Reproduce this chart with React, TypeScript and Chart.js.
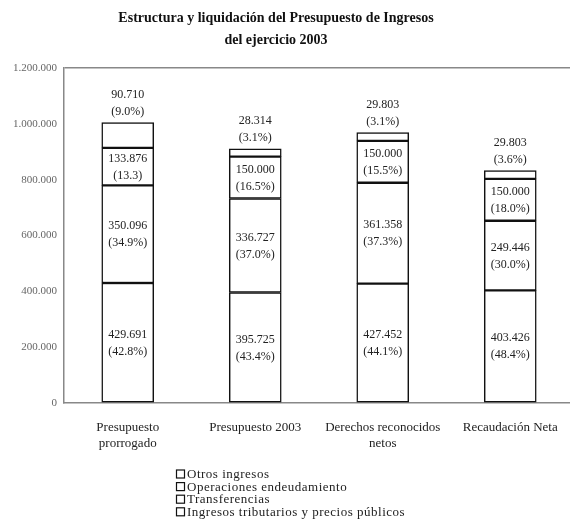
import React, { useEffect, useRef } from "react";
import { Chart, registerables } from "chart.js";

Chart.register(...registerables);

const categories: (string | string[])[] = [
  ["Presupuesto", "prorrogado"],
  "Presupuesto 2003",
  ["Derechos reconocidos", "netos"],
  "Recaudación Neta",
];

const seriesNames = [
  "Ingresos tributarios y precios públicos",
  "Transferencias",
  "Operaciones endeudamiento",
  "Otros ingresos",
];

const tributarios = [429691, 395725, 427452, 403426];
const transferencias = [350096, 336727, 361358, 249446];
const endeudamiento = [133876, 150000, 150000, 150000];
const otros = [90710, 28314, 29803, 29803];

const pctTributarios = ["(42.8%)", "(43.4%)", "(44.1%)", "(48.4%)"];
const pctTransferencias = ["(34.9%)", "(37.0%)", "(37.3%)", "(30.0%)"];
const pctEndeudamiento = ["(13.3)", "(16.5%)", "(15.5%)", "(18.0%)"];
const pctOtros = ["(9.0%)", "(3.1%)", "(3.1%)", "(3.6%)"];

const yTicks = [0, 200000, 400000, 600000, 800000, 1000000, 1200000];

const titleLines = ["Estructura y liquidación del Presupuesto de Ingresos", "del ejercicio 2003"];

const fmt = (n: number) => n.toString().replace(/\B(?=(\d{3})+(?!\d))/g, ".");

const SERIF = "'Liberation Serif', 'DejaVu Serif', serif";

export default function App() {
  const ref = useRef<HTMLCanvasElement>(null);

  useEffect(() => {
    if (!ref.current) return;
    document.body.style.margin = "0";
    const values = [tributarios, transferencias, endeudamiento, otros];
    const pcts = [pctTributarios, pctTransferencias, pctEndeudamiento, pctOtros];

    const labelsPlugin = {
      id: "segLabels",
      afterDatasetsDraw(chart: any) {
        const ctx = chart.ctx;
        ctx.save();
        ctx.fillStyle = "#222";
        ctx.font = `12px ${SERIF}`;
        ctx.textAlign = "center";
        ctx.textBaseline = "middle";
        chart.data.datasets.forEach((ds: any, di: number) => {
          const meta = chart.getDatasetMeta(di);
          meta.data.forEach((el: any, i: number) => {
            const v = fmt(values[di][i]);
            const p = pcts[di][i];
            if (di === 3) {
              ctx.fillText(v, el.x, el.y - 28);
              ctx.fillText(p, el.x, el.y - 11);
            } else {
              const c = (el.y + el.base) / 2;
              ctx.fillText(v, el.x, c - 8);
              ctx.fillText(p, el.x, c + 9);
            }
          });
        });
        ctx.restore();
      },
    };

    const titleLegendPlugin = {
      id: "titleLegend",
      afterDraw(chart: any) {
        const ctx = chart.ctx;
        ctx.save();
        ctx.fillStyle = "#111";
        ctx.font = `bold 14px ${SERIF}`;
        ctx.textAlign = "center";
        ctx.textBaseline = "middle";
        ctx.fillText(titleLines[0], 276, 18);
        ctx.fillText(titleLines[1], 276, 40);

        ctx.font = `13px ${SERIF}`;
        ctx.textAlign = "left";
        try {
          (ctx as any).letterSpacing = "0.5px";
        } catch (e) {}
        const n = chart.data.datasets.length;
        for (let k = 0; k < n; k++) {
          const ds = chart.data.datasets[n - 1 - k];
          const y = 474 + k * 12.6;
          ctx.strokeStyle = "#111";
          ctx.lineWidth = 1.2;
          ctx.fillStyle = "#fff";
          ctx.fillRect(176.5, y - 4, 8, 8);
          ctx.strokeRect(176.5, y - 4, 8, 8);
          ctx.fillStyle = "#222";
          ctx.fillText(ds.label, 187, y + 0.5);
        }
        ctx.restore();
      },
    };

    const chart = new Chart(ref.current, {
      type: "bar",
      data: {
        labels: categories,
        datasets: values.map((arr, i) => ({
          label: seriesNames[i],
          data: arr,
          backgroundColor: "#ffffff",
          borderColor: "#111111",
          borderWidth: 1.5,
          borderSkipped: false,
          barThickness: 52,
        })),
      },
      options: {
        responsive: false,
        animation: false,
        layout: { padding: { top: 68, left: 0, right: 0, bottom: 0 } },
        plugins: {
          legend: { display: false },
          title: { display: false },
          tooltip: { enabled: false },
        },
        scales: {
          x: {
            stacked: true,
            grid: { display: false, drawTicks: false },
            border: { display: true, color: "#888", width: 1.5 },
            ticks: {
              padding: 16,
              color: "#222",
              font: { family: SERIF, size: 13, lineHeight: 1.25 },
              maxRotation: 0,
              autoSkip: false,
            },
            afterFit(scale: any) {
              scale.height = 118;
            },
          },
          y: {
            stacked: true,
            min: 0,
            max: 1200000,
            afterBuildTicks(scale: any) {
              scale.ticks = yTicks.map((v) => ({ value: v }));
            },
            grid: {
              drawTicks: false,
              color: (c: any) => (c.tick && c.tick.value === 1200000 ? "#888" : "rgba(0,0,0,0)"),
              lineWidth: 1.5,
            },
            border: { display: true, color: "#888", width: 1.5 },
            ticks: {
              padding: 7,
              color: "#666",
              font: { family: SERIF, size: 11 },
              callback: (v: any) => fmt(Number(v)),
            },
            afterFit(scale: any) {
              scale.width = 64;
            },
          },
        },
      },
      plugins: [labelsPlugin, titleLegendPlugin],
    });
    return () => chart.destroy();
  }, []);

  return (
    <div style={{ position: "absolute", left: 0, top: 0, width: 570, height: 521, overflow: "hidden", background: "#fff" }}>
      <canvas ref={ref} width={574} height={521} style={{ width: 574, height: 521, display: "block" }} />
    </div>
  );
}
